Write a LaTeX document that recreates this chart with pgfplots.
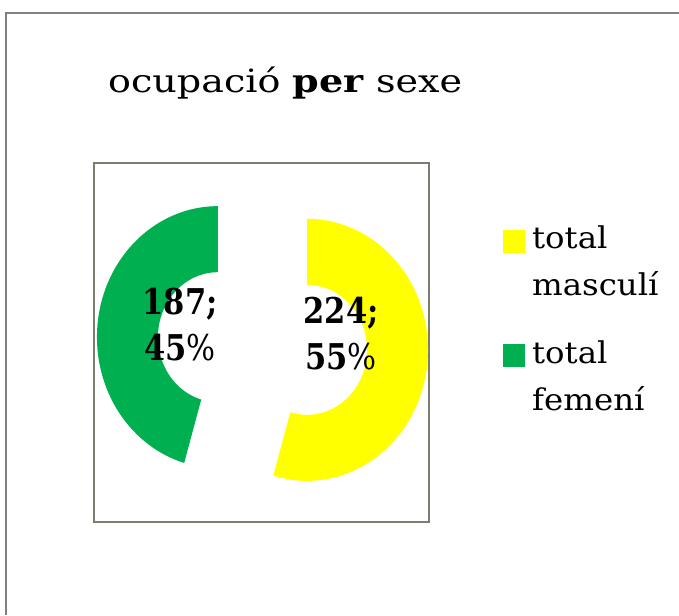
\documentclass[border=0pt]{standalone}
\usepackage{pgfplots}
\pgfplotsset{compat=1.18}
\usepackage{pgfplotstable}
\usepackage{fontspec}
\setmainfont{DejaVu Serif}
\newfontfamily\widetitle{DejaVu Serif}[FakeStretch=1.19]
\newfontfamily\widelegend{DejaVu Serif}[FakeStretch=1.08]
\newfontfamily\narrowlabel{DejaVu Serif}[FakeStretch=0.86]

\definecolor{femgreen}{RGB}{0,176,80}
\definecolor{mascyellow}{RGB}{255,255,0}
\definecolor{boxgray}{RGB}{122,125,112}
\definecolor{framegray}{RGB}{128,128,128}

% ocupació per sexe
\pgfplotstableread{
serie value
masc  224
fem   187
}\sexdata

\begin{document}
\begin{tikzpicture}[x=1pt,y=1pt]
\useasboundingbox (0,0) rectangle (679,615);
\fill[white] (0,0) rectangle (679,615);
\draw[framegray, line width=2.5pt] (6,0) -- (6,602) -- (680,602);
\node[anchor=base west, inner sep=0pt, font=\widetitle\fontsize{32}{38}\selectfont] at (108,522) {ocupació \textbf{per} sexe};

\pgfplotstablegetelem{0}{value}\of\sexdata \let\vm\pgfplotsretval
\pgfplotstablegetelem{1}{value}\of\sexdata \let\vf\pgfplotsretval
\edef\pmasc{\the\numexpr 100*\vm/(\vm+\vf)\relax}
\edef\pfem{\the\numexpr 100-\pmasc\relax}
\pgfmathsetmacro\fm{\vm/(\vm+\vf)}
\pgfmathsetmacro\endm{90-360*\fm}
% explode both parts along their bisector
\pgfmathsetmacro\bm{(90+\endm)/2}
\pgfmathsetmacro\ycx{168.5+45*cos(\bm)}
\pgfmathsetmacro\ycy{178.5+45*sin(\bm)}
\pgfmathsetmacro\gcx{168.5-45*cos(\bm)}
\pgfmathsetmacro\gcy{178.5-45*sin(\bm)}
\pgfmathsetmacro\yox{\ycx+121*cos(\endm)}
\pgfmathsetmacro\yoy{\ycy+131*sin(\endm)}
\pgfmathsetmacro\gix{\gcx+60*cos(\endm)}
\pgfmathsetmacro\giy{\gcy+65*sin(\endm)}

\begin{axis}[
  at={(94,93)}, anchor=south west,
  scale only axis, width=335pt, height=359pt,
  xmin=0, xmax=335, ymin=0, ymax=359,
  xtick=\empty, ytick=\empty,
  axis line style={boxgray, line width=1.3pt},
  clip=false,
  legend style={draw=none, fill=none, inner sep=0pt, at={(axis cs:409,296)}, anchor=north west,
    font=\widelegend\fontsize{30}{47}\selectfont, row sep=43pt, column sep=0pt,
    nodes={align=left, inner xsep=7pt, inner ysep=0pt}},
  legend cell align=left,
  legend image code/.code={\fill[#1] (0pt,9pt) rectangle (22pt,32pt);},
  ]
  \fill[mascyellow] (axis cs:\yox,\yoy) arc[start angle=\endm, end angle=90, x radius=121, y radius=131]
    -- (axis cs:\ycx,\ycy+65) arc[start angle=90, end angle=\endm, x radius=60, y radius=65] -- cycle;
  \fill[femgreen] (axis cs:\gcx,\gcy+131) arc[start angle=90, end angle=360+\endm, x radius=121, y radius=131]
    -- (axis cs:\gix,\giy) arc[start angle=360+\endm, end angle=90, x radius=60, y radius=65] -- cycle;
  \node[align=center, font=\narrowlabel\fontsize{35.5}{46}\selectfont] at (axis cs:86,197) {\textbf{\vf;}\\\textbf{\pfem}\%};
  \node[align=center, font=\narrowlabel\fontsize{35.5}{46}\selectfont] at (axis cs:247,188) {\textbf{\vm;}\\\textbf{\pmasc}\%};
  \addlegendimage{fill=mascyellow, draw=none}
  \addlegendentry{total\\masculí}
  \addlegendimage{fill=femgreen, draw=none}
  \addlegendentry{total\\femení}
\end{axis}
\end{tikzpicture}
\end{document}
